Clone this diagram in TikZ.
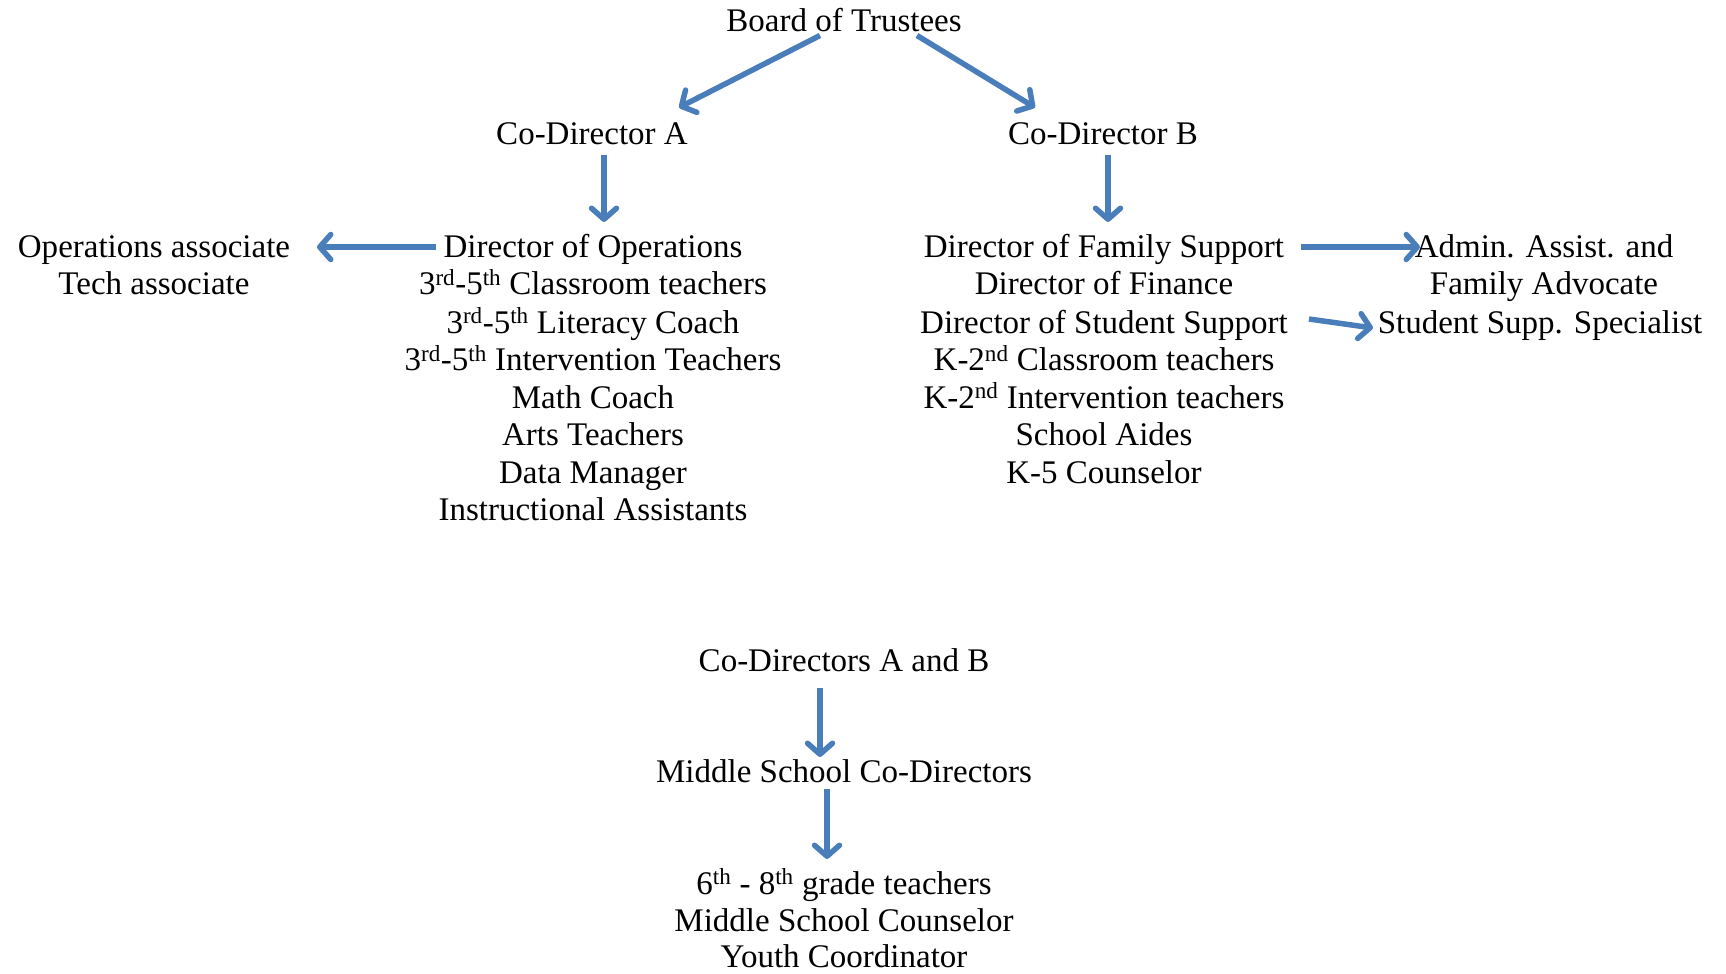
\documentclass[tikz,border=0pt]{standalone}
\usepackage{fontspec}
\setmainfont{Liberation Serif}
\usetikzlibrary{arrows.meta,calc}
\definecolor{arrowblue}{HTML}{4A7EBB}
\begin{document}
\begin{tikzpicture}[x=1pt,y=-1pt,
  lbl/.style={inner sep=0pt, anchor=base, font=\fontsize{33}{39}\selectfont},
  link/.style={draw=arrowblue, line width=5.5pt,
    -{Straight Barb[length=11pt,width=25pt,round]}}]
\useasboundingbox (0,0) rectangle (1726,974);

% top level
\node[lbl] (board) at (844,31.5) {Board of Trustees};
\node[lbl] (coa) at (592,144.5) {Co-Director A};
\node[lbl] (cob) at (1103,144.5) {Co-Director B};

% staff under Co-Director A
\node[lbl] (dops) at (593,257) {Director of Operations};
\node[lbl] (l2) at (593,294.5) {3\textsuperscript{rd}-5\textsuperscript{th} Classroom teachers};
\node[lbl] (l3) at (593,333) {3\textsuperscript{rd}-5\textsuperscript{th} Literacy Coach};
\node[lbl] (l4) at (593,370.5) {3\textsuperscript{rd}-5\textsuperscript{th} Intervention Teachers};
\node[lbl] (l5) at (593,408) {Math Coach};
\node[lbl] (l6) at (593,445.5) {Arts Teachers};
\node[lbl] (l7) at (593,483) {Data Manager};
\node[lbl] (l8) at (593,520.5) {Instructional Assistants};

\node[lbl] (opsa) at (154,257) {Operations associate};
\node[lbl] (tech) at (154,294.5) {Tech associate};

% staff under Co-Director B
\node[lbl] (dfs) at (1104,257) {Director of Family Support};
\node[lbl] (r2) at (1104,294.5) {Director of Finance};
\node[lbl] (dss) at (1104,333) {Director of Student Support};
\node[lbl] (r4) at (1104,370.5) {K-2\textsuperscript{nd} Classroom teachers};
\node[lbl] (r5) at (1104,408) {K-2\textsuperscript{nd} Intervention teachers};
\node[lbl] (r6) at (1104,445.5) {School Aides};
\node[lbl] (r7) at (1104,483) {K-5 Counselor};

\node[lbl] (admin) at (1544,257) {Admin. Assist. and};
\node[lbl] (famadv) at (1544,294.5) {Family Advocate};
\node[lbl] (spec) at (1540,333) {Student Supp. Specialist};

% middle school
\node[lbl] (cdab) at (844,671) {Co-Directors A and B};
\node[lbl] (msc) at (844,782) {Middle School Co-Directors};
\node[lbl] (g68) at (844,894) {6\textsuperscript{th} - 8\textsuperscript{th} grade teachers};
\node[lbl] (msco) at (844,931) {Middle School Counselor};
\node[lbl] (youth) at (844,967.5) {Youth Coordinator};

% reporting lines
\draw[link] ($(board.base)+(-24,4)$) -- ($(coa.base)+(87,-37)$);
\draw[link] ($(board.base)+(73,4)$) -- ($(cob.base)+(-68,-37)$);
\draw[link] ($(coa.base)+(12,10)$) -- ($(dops.base)+(11,-35)$);
\draw[link] ($(cob.base)+(5,10)$) -- ($(dfs.base)+(4,-35)$);
\draw[link] ($(dops.base)+(-157,-10)$) -- ($(opsa.base)+(163,-10)$);
\draw[link] ($(dfs.base)+(197,-10)$) -- ($(admin.base)+(-124,-10)$);
\draw[link] ($(dss.base)+(205,-14)$) -- ($(spec.base)+(-167,-5)$);
\draw[link] ($(cdab.base)+(-24,17)$) -- ($(msc.base)+(-24,-25)$);
\draw[link] ($(msc.base)+(-17,7)$) -- ($(g68.base)+(-17,-35)$);
\end{tikzpicture}
\end{document}
